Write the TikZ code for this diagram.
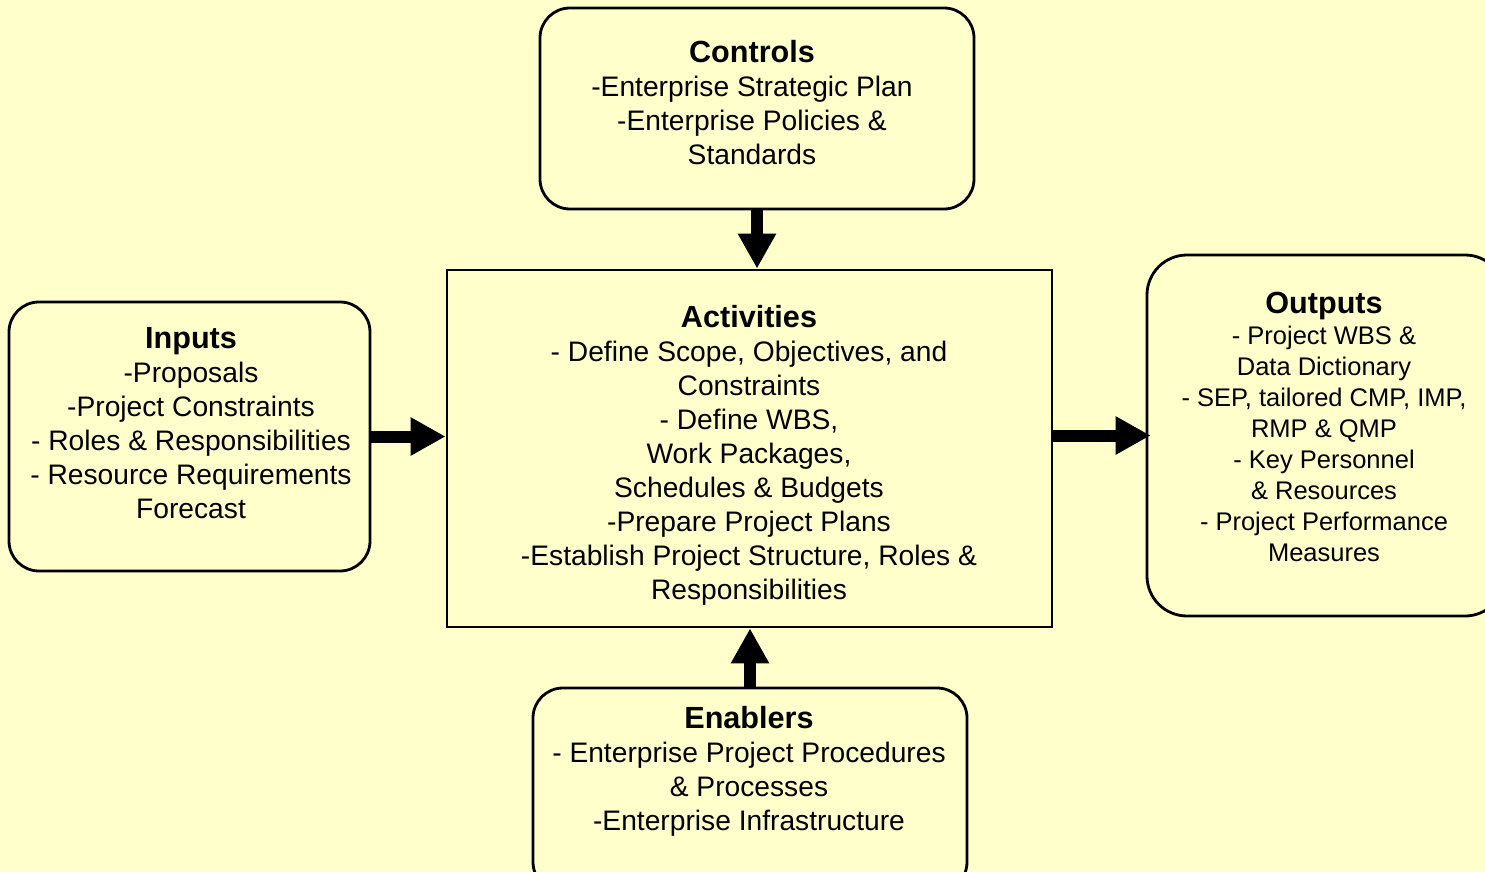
\documentclass[tikz,border=0pt]{standalone}
\usepackage{fontspec}
\setmainfont{Liberation Sans}
\usetikzlibrary{arrows.meta}
\definecolor{bg}{HTML}{FFFFCC}
\tikzset{
  box/.style={draw=black, line width=1.4pt, fill=bg, inner sep=0pt},
  rbox/.style={box, rounded corners=15pt},
  txt/.style={align=center, inner sep=0pt, font=\fontsize{14.1}{17}\selectfont},
  bigarrow/.style={line width=6pt, -{Triangle[width=18pt,length=17.5pt]}},
}
\newcommand{\ttlfont}{\fontsize{15.3}{17}\selectfont\bfseries}
\begin{document}
\begin{tikzpicture}[x=0.5pt,y=-0.5pt]
\useasboundingbox (0,0) rectangle (1485,872);
\clip (0,0) rectangle (1485,872);
\fill[bg] (0,0) rectangle (1485,872);
% boxes
\node[rbox, minimum width=217pt, minimum height=100.5pt] (ctrl) at (757,108.5) {};
\node[box, minimum width=302.5pt, minimum height=178.5pt] (act) at (749.5,448.5) {};
\node[rbox, minimum width=180.5pt, minimum height=134.5pt] (inp) at (189.5,436.5) {};
\node[box, rounded corners=20pt, minimum width=179pt, minimum height=180.5pt] (outp) at (1326,435.5) {};
\node[rbox, minimum width=217pt, minimum height=102pt] (enab) at (750,790) {};
% texts
\node[txt] (ctrlT) at (752,103) {{\ttlfont Controls}\\-Enterprise Strategic Plan\\-Enterprise Policies \&\\Standards};
\node[txt] (actT) at (749,455) {{\ttlfont Activities}\\- Define Scope, Objectives, and\\Constraints\\- Define WBS,\\Work Packages,\\Schedules \& Budgets\\-Prepare Project Plans\\-Establish Project Structure, Roles \&\\Responsibilities};
\node[txt] (inpT) at (191,423.5) {{\ttlfont Inputs}\\-Proposals\\-Project Constraints\\- Roles \& Responsibilities\\- Resource Requirements\\Forecast};
\node[txt, font=\fontsize{12.75}{15.5}\selectfont] (outpT) at (1324,427) {{\ttlfont Outputs}\\- Project WBS \&\\Data Dictionary\\- SEP, tailored CMP, IMP,\\RMP \& QMP\\- Key Personnel\\\& Resources\\- Project Performance\\Measures};
\node[txt] (enabT) at (749,771.5) {{\ttlfont Enablers}\\- Enterprise Project Procedures\\\& Processes\\-Enterprise Infrastructure};
% arrows
\draw[bigarrow] (ctrl.south) -- (ctrl.south |- act.north);
\draw[bigarrow] (enab.north) -- (enab.north |- act.south);
\draw[bigarrow] (inp.east) -- (inp.east -| act.west);
\draw[bigarrow] (outp.west -| act.east) -- ([xshift=2.5pt]outp.west);
\end{tikzpicture}
\end{document}
